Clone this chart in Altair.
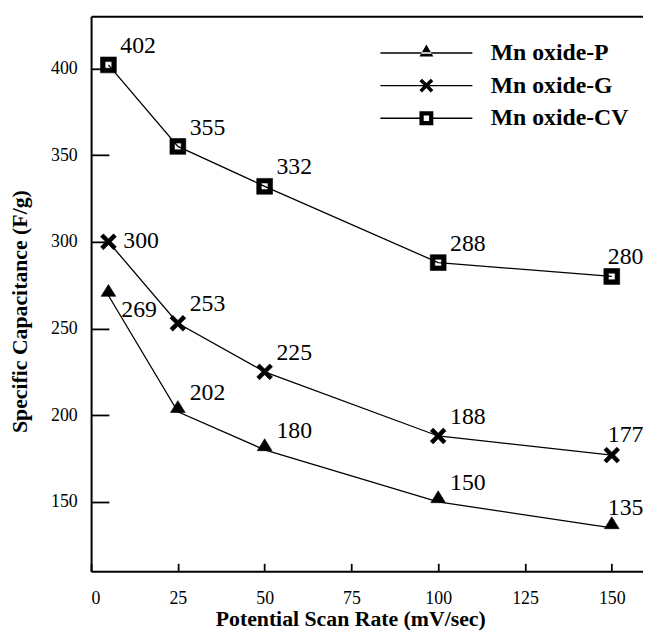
import altair as alt
import pandas as pd

# ---- data ----
rates = [5, 25, 50, 100, 150]
series_names = ["Mn oxide-P", "Mn oxide-G", "Mn oxide-CV"]
cap_p = [269, 202, 180, 150, 135]
cap_g = [300, 253, 225, 188, 177]
cap_cv = [402, 355, 332, 288, 280]
x_ticks = [0, 25, 50, 75, 100, 125, 150]
y_ticks = [150, 200, 250, 300, 350, 400]

rows = []
for name, vals in zip(series_names, [cap_p, cap_g, cap_cv]):
    for r, v in zip(rates, vals):
        rows.append({"series": name, "rate": r, "cap": v})
df = pd.DataFrame(rows)

FONT = "'Liberation Serif', 'Times New Roman', serif"
W, H = 558, 561


def f(v):
    return f"{v:.3f}"


def x_path(s, a):
    pts = [(0, -a), (1 - a, -1), (1, -1 + a), (a, 0), (1, 1 - a), (1 - a, 1),
           (0, a), (-1 + a, 1), (-1, 1 - a), (-a, 0), (-1, -1 + a), (-1 + a, -1)]
    return "M" + "L".join(f"{f(px * s)},{f(py * s)}" for px, py in pts) + "Z"


def tri_path(hw, base, apex):
    return f"M{f(-hw)},{f(base)}L{f(hw)},{f(base)}L0,{f(apex)}Z"


def sq_path(o, i):
    return (f"M{f(-o)},{f(-o)}H{f(o)}V{f(o)}H{f(-o)}Z"
            f"M{f(-i)},{f(-i)}V{f(i)}H{f(i)}V{f(-i)}Z")


def bar_path(x0, x1, t):
    return f"M{f(x0)},{f(-t)}H{f(x1)}V{f(t)}H{f(x0)}Z"


# markers on the plot (unit = 8 px)
marker_paths = [tri_path(0.93, 0.1, -1.4), x_path(1.0, 0.36), sq_path(1.0, 0.42)]
# legend symbols (unit = 10 px): thin filled line + marker
L = 4.65
T = 0.07
legend_paths = [
    bar_path(-L, L, T) + tri_path(0.7, 0.35, -0.85),
    bar_path(-L, L, T) + x_path(0.7, 0.36),
    bar_path(-L, -0.7, T) + bar_path(0.7, L, T) + sq_path(0.7, 0.27),
]

xs = alt.Scale(domain=[0, 159], nice=False, zero=False)
ys = alt.Scale(domain=[110, 430], nice=False, zero=False)

base = alt.Chart(df)

lines = base.mark_line(color="black", strokeWidth=1.3).encode(
    x=alt.X("rate:Q", scale=xs, axis=alt.Axis(
        orient="bottom", values=x_ticks, ticks=False, tickSize=0, grid=False,
        labelFont=FONT, labelFontSize=18, labelColor="black", labelPadding=19,
        domainColor="black", domainWidth=2,
        title="Potential Scan Rate (mV/sec)", titleFont=FONT, titleFontSize=22,
        titleFontWeight="bold", titleColor="black", titleX=262, titleY=48,
        titleBaseline="middle", titleAlign="center")),
    y=alt.Y("cap:Q", scale=ys, axis=alt.Axis(
        orient="left", values=y_ticks, ticks=False, tickSize=0, grid=False,
        labelFont=FONT, labelFontSize=18, labelColor="black", labelPadding=14,
        domainColor="black", domainWidth=2,
        title="Specific Capacitance (F/g)", titleFont=FONT, titleFontSize=22,
        titleFontWeight="bold", titleColor="black", titleAngle=270,
        titleX=-72, titleY=298, titleBaseline="middle", titleAlign="center")),
    detail="series:N",
)

points = base.mark_point(filled=True, fill="black", stroke="black",
                         strokeWidth=0.6, opacity=1, size=256).encode(
    x=alt.X("rate:Q", scale=xs, axis=alt.Axis(
        orient="top", offset=-H, values=x_ticks, labels=False, domain=False,
        grid=False, tickSize=8, tickWidth=1.8, tickColor="black", title=None)),
    y=alt.Y("cap:Q", scale=ys, axis=alt.Axis(
        orient="right", offset=-W, values=y_ticks, labels=False, domain=False,
        grid=False, tickSize=18, tickWidth=1.8, tickColor="black", title=None)),
    shape=alt.Shape("series:N", scale=alt.Scale(domain=series_names, range=marker_paths),
                    legend=None),
)


def label_layer(expr, dx, dy):
    return base.transform_filter(expr).mark_text(
        font=FONT, fontSize=24, align="left", baseline="middle",
        dx=dx, dy=dy, color="black").encode(
        x=alt.X("rate:Q", scale=xs, axis=None),
        y=alt.Y("cap:Q", scale=ys, axis=None),
        text="cap:Q",
    )


lab_main = label_layer(
    "datum.rate > 5 && datum.rate < 150 || (datum.rate == 5 && datum.series == 'Mn oxide-CV')",
    12, -19)
lab_g0 = label_layer("datum.rate == 5 && datum.series == 'Mn oxide-G'", 15, -1)
lab_p0 = label_layer("datum.rate == 5 && datum.series == 'Mn oxide-P'", 13, 15)
lab_end = label_layer("datum.rate == 150", -4, -20)

legend_layer = base.transform_filter("false").mark_point(
    filled=True, fill="black", stroke="black", strokeWidth=0.5, opacity=1).encode(
    x=alt.X("rate:Q", scale=xs, axis=alt.Axis(
        orient="top", labels=False, ticks=False, tickSize=0, domain=True,
        domainColor="black", domainWidth=2, grid=False, title=None)),
    y=alt.Y("cap:Q", scale=ys, axis=None),
    shape=alt.Shape("series:N", scale=alt.Scale(domain=series_names, range=legend_paths),
                    legend=alt.Legend(
                        title=None, orient="none", legendX=327, legendY=25,
                        symbolSize=400, symbolStrokeWidth=0.5,
                        symbolFillColor="black", symbolStrokeColor="black",
                        symbolOpacity=1, labelFont=FONT, labelFontSize=24,
                        labelFontWeight="bold", labelColor="black",
                        labelOffset=53, labelLimit=300, rowPadding=9,
                        padding=0, symbolOffset=0)),
)

chart = alt.layer(lines, points, lab_main, lab_g0, lab_p0, lab_end, legend_layer).resolve_scale(
    shape="independent"
).resolve_axis(
    x="independent", y="independent"
).properties(
    width=W, height=H,
    padding={"left": 84, "top": 5, "right": 0, "bottom": 61},
    autosize=alt.AutoSizeParams(type="none"),
    background="white",
).configure_view(stroke="transparent")

chart.save("out.html", embed_options={"renderer": "svg", "actions": False})
